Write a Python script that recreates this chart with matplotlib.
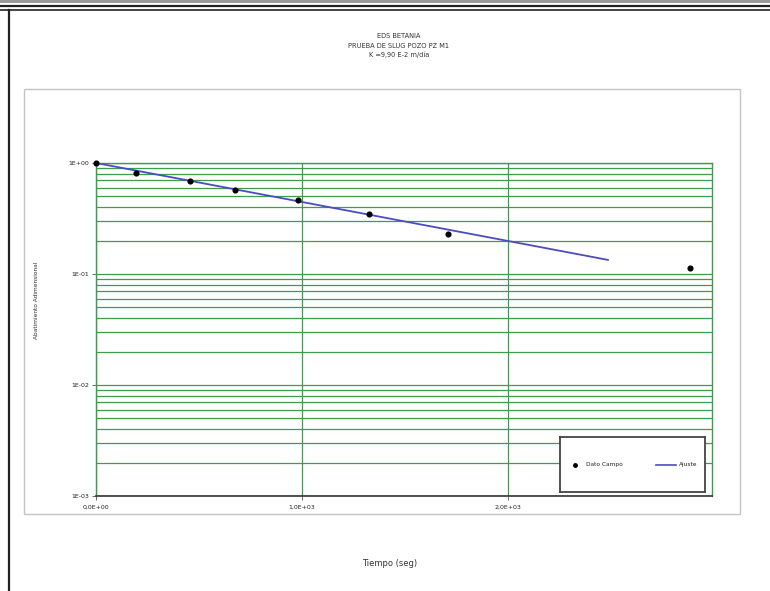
import matplotlib
matplotlib.use("Agg")
import matplotlib.pyplot as plt
from matplotlib.patches import Rectangle
from matplotlib.lines import Line2D
from matplotlib.ticker import FixedLocator, LogLocator, NullFormatter

# ---- data ----
tiempo = [0, 194, 456, 675, 980, 1325, 1709, 2883]
abatimiento = [1.0, 0.81, 0.69, 0.57, 0.46, 0.35, 0.23, 0.113]
ajuste_t = [0, 2485]
ajuste_y = [1.0, 0.134]
x_ticks = [0, 1000, 2000]
x_ticklabels = ["0,0E+00", "1,0E+03", "2,0E+03"]
y_ticks = [1e-3, 1e-2, 1e-1, 1e0]
y_ticklabels = ["1E-03", "1E-02", "1E-01", "1E+00"]
title_lines = ["EDS BETANIA", "PRUEBA DE SLUG POZO PZ M1", "K =9,90 E-2 m/día"]

W, H = 770, 591
fig = plt.figure(figsize=(W / 100, H / 100), dpi=100)
fig.patch.set_facecolor("white")

def fx(px):
    return px / W

def fy(py):
    return 1 - py / H

# scanned page frames
fig.add_artist(Rectangle((0, fy(3)), 1, 3 / H, transform=fig.transFigure,
                         facecolor="#9a9a9a", edgecolor="none"))
for yy, lw in [(6, 1.6), (10, 1.2)]:
    fig.add_artist(Line2D([0, 1], [fy(yy), fy(yy)], transform=fig.transFigure,
                          color="#222222", lw=lw))
fig.add_artist(Line2D([fx(9), fx(9)], [fy(10), 0], transform=fig.transFigure,
                      color="#222222", lw=1.6))
fig.add_artist(Rectangle((fx(24), fy(514)), (740 - 24) / W, (514 - 89) / H,
                         transform=fig.transFigure, facecolor="none",
                         edgecolor="#c4c4c4", lw=1.0))

green = "#3a9e4a"
ax = fig.add_axes([fx(96), fy(496), (712 - 96) / W, (496 - 163) / H])
ax.set_yscale("log")
ax.set_xlim(0, 2990)
ax.set_ylim(1e-3, 1e0)

ax.yaxis.set_major_locator(FixedLocator(y_ticks))
ax.set_yticks(y_ticks)
ax.set_yticklabels(y_ticklabels)
ax.yaxis.set_minor_locator(LogLocator(base=10, subs=range(2, 10)))
ax.yaxis.set_minor_formatter(NullFormatter())
ax.set_xticks(x_ticks)
ax.set_xticklabels(x_ticklabels)

ax.grid(True, which="both", axis="y", color=green, lw=0.9)
ax.grid(True, which="major", axis="x", color=green, lw=0.9)
ax.set_axisbelow(True)

for s in ["left", "right", "top"]:
    ax.spines[s].set_color(green)
    ax.spines[s].set_linewidth(1.0)
ax.spines["bottom"].set_color("#333333")
ax.spines["bottom"].set_linewidth(1.2)

ax.tick_params(axis="both", which="major", labelsize=4.5, length=3, width=0.6,
               color="#555555", labelcolor="#222222", pad=2)
ax.tick_params(axis="y", which="minor", length=0)
ax.tick_params(axis="x", pad=3)

ax.plot(ajuste_t, ajuste_y, color="#4b4bc4", lw=1.3, label="Ajuste", zorder=3)
ax.plot(tiempo, abatimiento, linestyle="none", marker="o", color="black",
        markersize=3.4, label="Dato Campo", zorder=4, clip_on=False)

# legend box
leg_ax = fig.add_axes([fx(560), fy(492), (705 - 560) / W, (492 - 437) / H])
leg_ax.set_xlim(0, 1)
leg_ax.set_ylim(0, 1)
leg_ax.set_xticks([])
leg_ax.set_yticks([])
for s in leg_ax.spines.values():
    s.set_color("#444444")
    s.set_linewidth(1.3)
leg_ax.plot([0.10], [0.5], marker="o", color="black", markersize=2.5)
leg_ax.text(0.18, 0.5, "Dato Campo", fontsize=4.2, va="center", ha="left", color="#222222")
leg_ax.plot([0.66, 0.80], [0.5, 0.5], color="#4b4bc4", lw=1.2)
leg_ax.text(0.82, 0.5, "Ajuste", fontsize=4.2, va="center", ha="left", color="#222222")

# titles and labels
for i, t in enumerate(title_lines):
    fig.text(fx(399), fy(36 + i * 9.5), t, fontsize=4.8, ha="center", va="center",
             color="#333333")
fig.text(fx(36), fy(300), "Abatimiento Adimensional", fontsize=4.2, rotation=90,
         ha="center", va="center", color="#333333")
fig.text(fx(390), fy(563), "Tiempo (seg)", fontsize=6, ha="center", va="center",
         color="#333333")

fig.savefig("out.png", dpi=100, facecolor="white")
